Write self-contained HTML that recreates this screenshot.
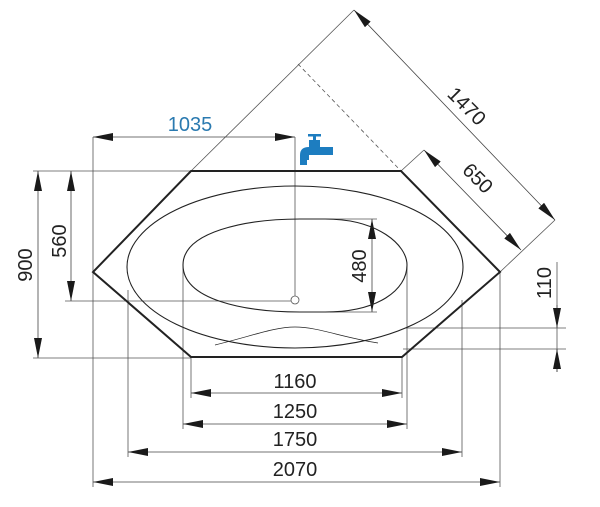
<!DOCTYPE html>
<html><head><meta charset="utf-8"><style>
html,body{margin:0;padding:0;background:#fff;}
svg{display:block;}
text{font-family:"Liberation Sans","DejaVu Sans",sans-serif;font-size:20px;fill:#222;}
</style></head><body>
<svg width="600" height="507" viewBox="0 0 600 507" xmlns="http://www.w3.org/2000/svg">
<defs>
<marker id="a" viewBox="0 0 20 8" refX="20" refY="4" markerWidth="20" markerHeight="8" markerUnits="userSpaceOnUse" orient="auto-start-reverse">
<path d="M0,0 L20,4 L0,8 Z" fill="#1a1a1a"/></marker>
</defs>
<g stroke="#555" stroke-width="0.8" fill="none">
<line x1="191" y1="171" x2="354" y2="10"/>
<line x1="500" y1="272" x2="555" y2="220"/>
<line x1="401" y1="171" x2="424" y2="150"/>
<line x1="298" y1="64" x2="401" y2="171" stroke-dasharray="4,3"/>
<line x1="93" y1="137" x2="93" y2="487"/>
<line x1="128" y1="290" x2="128" y2="457"/>
<line x1="183" y1="265" x2="183" y2="429"/>
<line x1="191" y1="357" x2="191" y2="398"/>
<line x1="402" y1="357" x2="402" y2="398"/>
<line x1="407" y1="265" x2="407" y2="429"/>
<line x1="462" y1="300" x2="462" y2="457"/>
<line x1="500" y1="272" x2="500" y2="487"/>
<line x1="295" y1="137" x2="295" y2="296"/>
<line x1="33" y1="171" x2="191" y2="171"/>
<line x1="33" y1="358" x2="191" y2="358"/>
<line x1="65" y1="301" x2="291" y2="301"/>
<line x1="300" y1="219" x2="377" y2="219"/>
<line x1="330" y1="312" x2="377" y2="312"/>
<line x1="405" y1="328" x2="566" y2="328"/>
<line x1="403" y1="349" x2="566" y2="349"/>
<line x1="557" y1="262" x2="557" y2="372"/>
<circle cx="295" cy="300" r="4"/>
</g>
<g stroke="#444" stroke-width="0.8" fill="none">
<line x1="93" y1="137" x2="295" y2="137" marker-start="url(#a)" marker-end="url(#a)"/>
<line x1="38" y1="171" x2="38" y2="358" marker-start="url(#a)" marker-end="url(#a)"/>
<line x1="71" y1="171" x2="71" y2="301" marker-start="url(#a)" marker-end="url(#a)"/>
<line x1="372" y1="219" x2="372" y2="312" marker-start="url(#a)" marker-end="url(#a)"/>
<line x1="191" y1="393" x2="402" y2="393" marker-start="url(#a)" marker-end="url(#a)"/>
<line x1="183" y1="424" x2="407" y2="424" marker-start="url(#a)" marker-end="url(#a)"/>
<line x1="128" y1="452" x2="462" y2="452" marker-start="url(#a)" marker-end="url(#a)"/>
<line x1="93" y1="482" x2="500" y2="482" marker-start="url(#a)" marker-end="url(#a)"/>
<line x1="354" y1="10" x2="555" y2="220" marker-start="url(#a)" marker-end="url(#a)"/>
<line x1="424" y1="150" x2="521" y2="250" marker-start="url(#a)" marker-end="url(#a)"/>
<line x1="557" y1="305" x2="557" y2="328" marker-end="url(#a)"/>
<line x1="557" y1="372" x2="557" y2="349" marker-end="url(#a)"/>
</g>
<g stroke="#222" fill="none">
<polygon points="191,171 401,171 500,272 402,357 191,357 93,272" stroke-width="2"/>
<ellipse cx="295" cy="267" rx="168" ry="81" stroke-width="1.1"/>
<path d="M183,265 C183,232 245,219 300,219 L325,219 C378,219 407,245 407,265 C407,290 378,312 325,312 L300,312 C245,312 183,300 183,265 Z" stroke-width="1.1"/>
<path d="M215,345 C255,335 275,327 295,327 C318,327 340,337 378,343" stroke-width="0.7"/>
</g>
<g fill="#1d7dc0">
<rect x="308" y="134" width="13" height="2.5"/>
<rect x="313" y="136" width="3" height="5"/>
<rect x="309" y="140" width="11" height="7"/>
<rect x="309" y="147" width="24" height="8"/>
<path d="M300,165 L300,155 Q300,147 309,147 L309,160 L307,160 L307,165 Z"/>
</g>
<text x="190" y="131" text-anchor="middle" style="fill:#2a7ab0">1035</text>
<text x="295" y="388" text-anchor="middle">1160</text>
<text x="295" y="418" text-anchor="middle">1250</text>
<text x="295" y="446" text-anchor="middle">1750</text>
<text x="295" y="476" text-anchor="middle">2070</text>
<text transform="translate(32,265) rotate(-90)" text-anchor="middle">900</text>
<text transform="translate(66,241) rotate(-90)" text-anchor="middle">560</text>
<text transform="translate(366,266) rotate(-90)" text-anchor="middle">480</text>
<text transform="translate(551,283) rotate(-90)" text-anchor="middle">110</text>
<text transform="translate(462,111) rotate(45)" text-anchor="middle">1470</text>
<text transform="translate(473,183) rotate(45)" text-anchor="middle">650</text>
</svg>
</body></html>
